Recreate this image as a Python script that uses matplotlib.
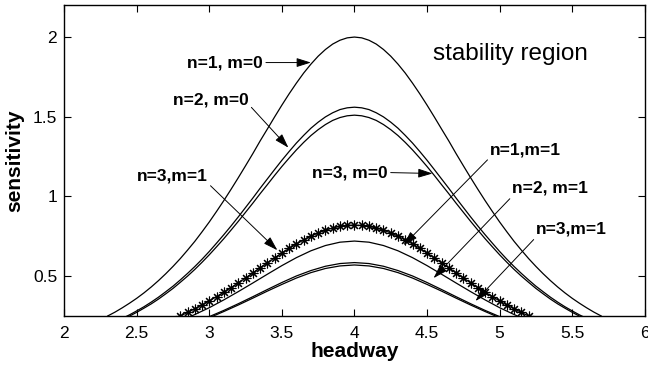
import matplotlib
matplotlib.use("Agg")
import matplotlib.pyplot as plt

plt.rcParams['font.family'] = ['Liberation Sans', 'DejaVu Sans']

# -- values --
x_wide = [2.30, 2.35, 2.40, 2.45, 2.50, 2.55, 2.60, 2.65, 2.70, 2.75, 2.80,
          2.85, 2.90, 2.95, 3.00, 3.05, 3.10, 3.15, 3.20, 3.25, 3.30, 3.35,
          3.40, 3.45, 3.50, 3.55, 3.60, 3.65, 3.70, 3.75, 3.80, 3.85, 3.90,
          3.95, 4.00, 4.05, 4.10, 4.15, 4.20, 4.25, 4.30, 4.35, 4.40, 4.45,
          4.50, 4.55, 4.60, 4.65, 4.70, 4.75, 4.80, 4.85, 4.90, 4.95, 5.00,
          5.05, 5.10, 5.15, 5.20, 5.25, 5.30, 5.35, 5.40, 5.45, 5.50, 5.55,
          5.60, 5.65, 5.70]
n1_m0 = [0.250, 0.274, 0.301, 0.330, 0.361, 0.395, 0.432, 0.472, 0.515, 0.561,
         0.610, 0.663, 0.718, 0.778, 0.840, 0.906, 0.974, 1.045, 1.118, 1.193,
         1.269, 1.348, 1.423, 1.499, 1.573, 1.644, 1.711, 1.774, 1.830, 1.880,
         1.922, 1.956, 1.980, 1.995, 2.000, 1.995, 1.980, 1.956, 1.922, 1.880,
         1.830, 1.774, 1.711, 1.644, 1.573, 1.499, 1.423, 1.348, 1.269, 1.193,
         1.118, 1.045, 0.974, 0.906, 0.840, 0.778, 0.718, 0.663, 0.610, 0.561,
         0.515, 0.472, 0.432, 0.395, 0.361, 0.330, 0.301, 0.274, 0.250]
n2_m0 = [0.195, 0.214, 0.235, 0.257, 0.282, 0.308, 0.337, 0.368, 0.402, 0.437,
         0.476, 0.517, 0.560, 0.606, 0.655, 0.707, 0.760, 0.815, 0.872, 0.931,
         0.990, 1.051, 1.110, 1.169, 1.227, 1.282, 1.335, 1.383, 1.428, 1.466,
         1.499, 1.525, 1.545, 1.556, 1.560, 1.556, 1.545, 1.525, 1.499, 1.466,
         1.428, 1.383, 1.335, 1.282, 1.227, 1.169, 1.110, 1.051, 0.990, 0.931,
         0.872, 0.815, 0.760, 0.707, 0.655, 0.606, 0.560, 0.517, 0.476, 0.437,
         0.402, 0.368, 0.337, 0.308, 0.282, 0.257, 0.235, 0.214, 0.195]
n3_m0 = [0.189, 0.207, 0.227, 0.249, 0.273, 0.299, 0.326, 0.356, 0.389, 0.423,
         0.461, 0.500, 0.542, 0.587, 0.634, 0.684, 0.735, 0.789, 0.844, 0.901,
         0.958, 1.017, 1.074, 1.132, 1.188, 1.241, 1.292, 1.339, 1.382, 1.419,
         1.451, 1.477, 1.495, 1.506, 1.510, 1.506, 1.495, 1.477, 1.451, 1.419,
         1.382, 1.339, 1.292, 1.241, 1.188, 1.132, 1.074, 1.017, 0.958, 0.901,
         0.844, 0.789, 0.735, 0.684, 0.634, 0.587, 0.542, 0.500, 0.461, 0.423,
         0.389, 0.356, 0.326, 0.299, 0.273, 0.249, 0.227, 0.207, 0.189]

x_narrow = [2.8, 2.9, 3.0, 3.1, 3.2, 3.3, 3.4, 3.5, 3.6, 3.7, 3.8, 3.9, 4.0,
            4.1, 4.2, 4.3, 4.4, 4.5, 4.6, 4.7, 4.8, 4.9, 5.0, 5.1, 5.2]
n2_m1 = [0.220, 0.259, 0.302, 0.351, 0.403, 0.457, 0.512, 0.566, 0.616, 0.659,
         0.692, 0.713, 0.720, 0.713, 0.692, 0.659, 0.616, 0.566, 0.512, 0.457,
         0.403, 0.351, 0.302, 0.259, 0.220]
n3_m1a = [0.175, 0.210, 0.246, 0.285, 0.327, 0.371, 0.416, 0.460, 0.501, 0.535,
          0.562, 0.579, 0.585, 0.579, 0.562, 0.535, 0.501, 0.460, 0.416, 0.371,
          0.327, 0.285, 0.246, 0.210, 0.175]
n3_m1b = [0.170, 0.205, 0.239, 0.278, 0.319, 0.362, 0.406, 0.448, 0.488, 0.522,
          0.548, 0.564, 0.570, 0.564, 0.548, 0.522, 0.488, 0.448, 0.406, 0.362,
          0.319, 0.278, 0.239, 0.205, 0.170]

x_star = [2.80, 2.85, 2.90, 2.95, 3.00, 3.05, 3.10, 3.15, 3.20, 3.25, 3.30,
          3.35, 3.40, 3.45, 3.50, 3.55, 3.60, 3.65, 3.70, 3.75, 3.80, 3.85,
          3.90, 3.95, 4.00, 4.05, 4.10, 4.15, 4.20, 4.25, 4.30, 4.35, 4.40,
          4.45, 4.50, 4.55, 4.60, 4.65, 4.70, 4.75, 4.80, 4.85, 4.90, 4.95,
          5.00, 5.05, 5.10, 5.15, 5.20]
n1_m1 = [0.250, 0.272, 0.295, 0.319, 0.344, 0.372, 0.399, 0.428, 0.458, 0.489,
         0.520, 0.553, 0.583, 0.615, 0.645, 0.674, 0.702, 0.727, 0.750, 0.771,
         0.788, 0.802, 0.812, 0.818, 0.820, 0.818, 0.812, 0.802, 0.788, 0.771,
         0.750, 0.727, 0.702, 0.674, 0.645, 0.615, 0.583, 0.553, 0.520, 0.489,
         0.458, 0.428, 0.399, 0.372, 0.344, 0.319, 0.295, 0.272, 0.250]

x_ticks = [2, 2.5, 3, 3.5, 4, 4.5, 5, 5.5, 6]
x_tick_labels = ["2", "2.5", "3", "3.5", "4", "4.5", "5", "5.5", "6"]
y_ticks = [0.5, 1, 1.5, 2]
y_tick_labels = ["0.5", "1", "1.5", "2"]

fig = plt.figure(figsize=(6.48, 3.70), dpi=100)
ax = fig.add_axes([0.099, 0.146, 0.896, 0.840])

lw = 0.9
for ys in (n1_m0, n2_m0, n3_m0):
    ax.plot(x_wide, ys, color="black", lw=lw)
for ys in (n2_m1, n3_m1a, n3_m1b):
    ax.plot(x_narrow, ys, color="black", lw=lw)
# MATLAB-style '*' marker: plus and cross overlaid
ax.plot(x_star, n1_m1, color="black", lw=lw, marker=(8, 2, 0),
        markersize=7, markeredgewidth=0.8)

ax.set_xlim(2, 6)
ax.set_ylim(0.25, 2.2)
ax.set_xticks(x_ticks, x_tick_labels)
ax.set_yticks(y_ticks, y_tick_labels)
ax.tick_params(direction="in", top=True, right=True, labelsize=12.5,
               length=5, width=0.8)
ax.tick_params(axis="x", pad=7)
ax.tick_params(axis="y", pad=5)
for sp in ax.spines.values():
    sp.set_linewidth(1.0)

ax.set_xlabel("headway", fontsize=15, fontweight="bold", labelpad=1)
ax.set_ylabel("sensitivity", fontsize=15, fontweight="bold", labelpad=6)

ax.text(5.076, 1.894, "stability region", fontsize=17.5,
        ha="center", va="center")

arrow = dict(arrowstyle="-|>,head_length=0.7,head_width=0.22",
             color="black", lw=0.7, shrinkA=0, shrinkB=0)

# (label, text pos, head pos, arrow start on text box)
notes = [
    ("n=1, m=0", (3.11, 1.84), (3.70, 1.84), (1.0, 0.5)),
    ("n=2, m=0", (3.01, 1.606), (3.545, 1.306), (1.0, 0.2)),
    ("n=3,m=1", (2.745, 1.131), (3.469, 0.6625), (1.0, 0.0)),
    ("n=3, m=0", (3.97, 1.15), (4.538, 1.144), (1.0, 0.5)),
    ("n=1,m=1", (5.18, 1.294), (4.338, 0.694), (0.0, 0.0)),
    ("n=2, m=1", (5.35, 1.05), (4.545, 0.4875), (0.0, 0.0)),
    ("n=3,m=1", (5.497, 0.794), (4.834, 0.344), (0.0, 0.0)),
]
for label, txt, head, rel in notes:
    props = dict(arrow, relpos=rel)
    ax.annotate(label, xy=head, xytext=txt, ha="center", va="center",
                fontsize=12.5, fontweight="bold", arrowprops=props)

fig.savefig("out.png", dpi=100)
